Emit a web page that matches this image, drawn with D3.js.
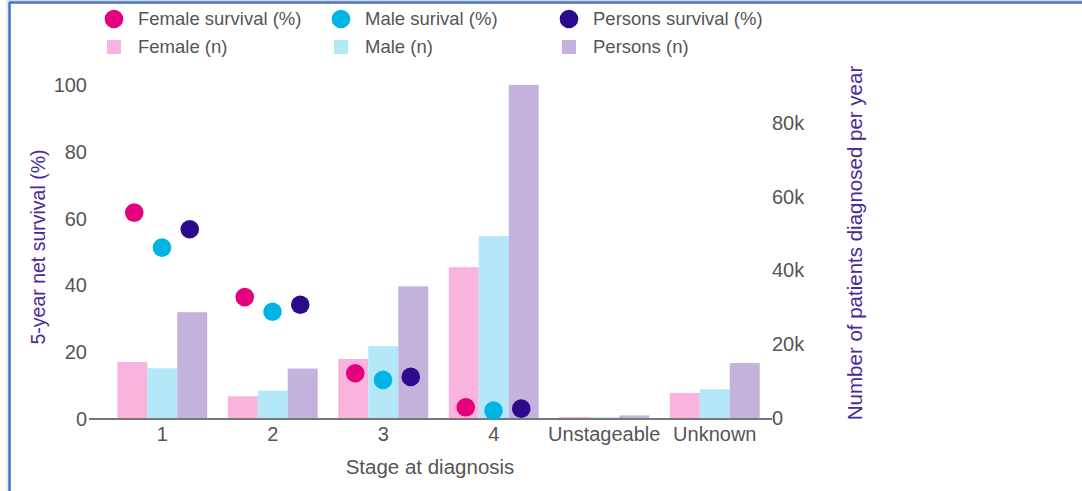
<!DOCTYPE html>
<html>
<head>
<meta charset="utf-8">
<script src="https://cdn.jsdelivr.net/npm/d3@7"></script>
<style>
  body { margin: 0; background: #fff; }
  svg { display: block; font-family: "Liberation Sans", Arial, sans-serif; }
</style>
</head>
<body>
<svg id="chart" width="1082" height="491"></svg>
<script>
// Stage data
const stages = ['1', '2', '3', '4', 'Unstageable', 'Unknown'];

// survival (%) - none for unstageable / unknown
const femaleSurvival = [61.8, 36.5, 13.7, 3.5, null, null];
const maleSurvival = [51.3, 32.1, 11.7, 2.5, null, null];
const personsSurvival = [56.8, 34.2, 12.6, 3.1, null, null];

// patients diagnosed per year
const femaleN = [15200, 5900, 16000, 40900, 300, 6800];
const maleN = [13500, 7400, 19500, 49300, 200, 7800];
const personsN = [28700, 13400, 35700, 90300, 700, 14900];

const leftTicks = [0, 20, 40, 60, 80, 100];
const rightTicks = [0, 20000, 40000, 60000, 80000];

const series = ['female', 'male', 'persons'];
const dotColors = { female: '#e5007d', male: '#00b4e6', persons: '#2d0a8c' };
const barColors = { female: '#f8b4dd', male: '#b4e7f8', persons: '#c3b3dc' };

const svg = d3.select('#chart');

// frame like the original screenshot
svg.append('line').attr('x1', 7).attr('x2', 7).attr('y1', 0).attr('y2', 491)
    .attr('stroke', '#d6d6d6').attr('stroke-width', 1);
svg.append('line').attr('x1', 7).attr('x2', 1082).attr('y1', 0.5).attr('y2', 0.5)
    .attr('stroke', '#d6d6d6').attr('stroke-width', 1);
svg.append('line').attr('x1', 9.5).attr('x2', 9.5).attr('y1', 2).attr('y2', 491)
    .attr('stroke', '#4472c4').attr('stroke-width', 2.5);
svg.append('line').attr('x1', 9).attr('x2', 1082).attr('y1', 2.5).attr('y2', 2.5)
    .attr('stroke', '#4472c4').attr('stroke-width', 2.5);

// Scales
const x = d3.scaleBand().domain(stages).range([107, 770])
    .paddingInner(0.186).paddingOuter(0.093);
const xSub = d3.scaleBand().domain(series).range([0, x.bandwidth()]);
const xDot = d3.scalePoint().domain(series)
    .range([x.bandwidth() / 2 - 28, x.bandwidth() / 2 + 27.5]);

const yLeft = d3.scaleLinear().domain([0, 100]).range([419, 85]);
const yRight = d3.scaleLinear().domain([0, d3.max(personsN)]).range([418, 85]);

const counts = { female: femaleN, male: maleN, persons: personsN };
const surv = { female: femaleSurvival, male: maleSurvival, persons: personsSurvival };

// Baseline (under the bars so the tiny unstageable bars still show)
svg.append('line')
    .attr('x1', 89).attr('x2', 772)
    .attr('y1', yLeft(0)).attr('y2', yLeft(0))
    .attr('stroke', '#777').attr('stroke-width', 2);

// Bars
const groups = svg.append('g').selectAll('g')
    .data(stages)
    .join('g')
    .attr('transform', d => `translate(${x(d)},0)`);

groups.selectAll('rect')
    .data((d, i) => series.map(s => ({ s, v: counts[s][i] })))
    .join('rect')
    .attr('x', d => xSub(d.s))
    .attr('width', xSub.bandwidth())
    .attr('y', d => yRight(d.v))
    .attr('height', d => yRight(0) - yRight(d.v))
    .attr('fill', d => barColors[d.s]);

// Dots
groups.selectAll('circle')
    .data((d, i) => series.map(s => ({ s, v: surv[s][i] })).filter(d => d.v != null))
    .join('circle')
    .attr('cx', d => xDot(d.s))
    .attr('cy', d => yLeft(d.v))
    .attr('r', 9.3)
    .attr('fill', d => dotColors[d.s]);

// Axes
const tickColor = '#555';
const leftAxis = svg.append('g').attr('transform', 'translate(88,0)')
    .call(d3.axisLeft(yLeft).tickValues(leftTicks).tickSize(0).tickPadding(1));
const rightAxis = svg.append('g').attr('transform', 'translate(771,0)')
    .call(d3.axisRight(yRight).tickValues(rightTicks).tickSize(0).tickPadding(1)
        .tickFormat(d3.format('~s')));
const bottomAxis = svg.append('g').attr('transform', 'translate(0,419)')
    .call(d3.axisBottom(x).tickSize(0).tickPadding(8));

[leftAxis, rightAxis, bottomAxis].forEach(a => {
    a.select('.domain').remove();
    a.selectAll('text').attr('fill', tickColor).style('font-size', '20px')
        .style('font-family', '"Liberation Sans", Arial, sans-serif');
});

// Axis titles
svg.append('text')
    .attr('transform', 'translate(45,247) rotate(-90)')
    .attr('text-anchor', 'middle')
    .attr('fill', '#4b2a96')
    .style('font-size', '19.5px')
    .text('5-year net survival (%)');

svg.append('text')
    .attr('transform', 'translate(862,243) rotate(-90)')
    .attr('text-anchor', 'middle')
    .attr('fill', '#4b2a96')
    .style('font-size', '20.5px')
    .text('Number of patients diagnosed per year');

svg.append('text')
    .attr('x', 430).attr('y', 474)
    .attr('text-anchor', 'middle')
    .attr('fill', tickColor)
    .style('font-size', '20.5px')
    .text('Stage at diagnosis');

// Legend
const legendX = [114, 341, 569];
const dotLabels = ['Female survival (%)', 'Male surival (%)', 'Persons survival (%)'];
const barLabels = ['Female (n)', 'Male (n)', 'Persons (n)'];

const legend = svg.append('g');
series.forEach((s, i) => {
    legend.append('circle')
        .attr('cx', legendX[i]).attr('cy', 19).attr('r', 9.3)
        .attr('fill', dotColors[s]);
    legend.append('text')
        .attr('x', legendX[i] + 24).attr('y', 19).attr('dy', '0.35em')
        .attr('fill', tickColor).style('font-size', '18.5px')
        .text(dotLabels[i]);
    legend.append('rect')
        .attr('x', legendX[i] - 7).attr('y', 40).attr('width', 14).attr('height', 14)
        .attr('fill', barColors[s]);
    legend.append('text')
        .attr('x', legendX[i] + 24).attr('y', 47).attr('dy', '0.35em')
        .attr('fill', tickColor).style('font-size', '18.5px')
        .text(barLabels[i]);
});
</script>
</body>
</html>
